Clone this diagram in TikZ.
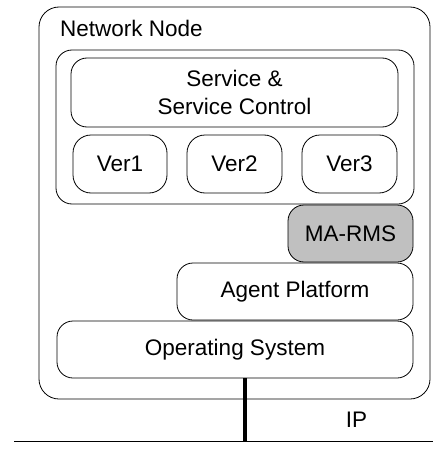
\documentclass[tikz,border=0pt]{standalone}
\usepackage{fontspec}
\setmainfont{Liberation Sans}
\definecolor{marms}{HTML}{C0C0C0}
\begin{document}
\begin{tikzpicture}[x=1pt,y=-1pt,
  box/.style={draw=black,line width=0.8pt,rounded corners=16pt},
  lbl/.style={font=\fontsize{22.5}{27.5}\selectfont,align=center,inner sep=0pt}]
\useasboundingbox (0,0) rectangle (433,452);
% outer node
\draw[box,rounded corners=20pt] (39,7) rectangle (430,399);
\node[lbl,anchor=west] (nn) at (60,28) {Network Node};
% service group
\draw[box] (56,50) rectangle (414,204);
\draw[box] (71,58) rectangle (398,127);
\node[lbl] (svc) at (234.5,92.5) {Service \&\\Service Control};
\draw[box,rounded corners=18pt] (73,135) rectangle (167,193);
\node[lbl] (v1) at (120,164) {Ver1};
\draw[box,rounded corners=18pt] (187,135) rectangle (282,193);
\node[lbl] (v2) at (234.5,164) {Ver2};
\draw[box,rounded corners=18pt] (302,135) rectangle (397,193);
\node[lbl] (v3) at (349.5,164) {Ver3};
% MA-RMS
\draw[box,fill=marms] (288,205) rectangle (413,262);
\node[lbl] (ma) at (350.5,233.5) {MA-RMS};
% agent platform
\draw[box] (177,263) rectangle (413,320);
\node[lbl] (ap) at (295,291.5) {Agent Platform};
% OS
\draw[box] (57,321) rectangle (413,378);
\node[lbl] (os) at (235,349.5) {Operating System};
% IP
\coordinate (osb) at (245,378);
\coordinate (ipj) at (245,441);
\coordinate (ipl) at (14,441);
\coordinate (ipr) at (433,441);
\draw[line width=4.5pt] (osb) -- (ipj);
\draw[line width=1pt] (ipl) -- (ipr);
\node[lbl] (ip) at (356.5,420) {IP};
\end{tikzpicture}
\end{document}
